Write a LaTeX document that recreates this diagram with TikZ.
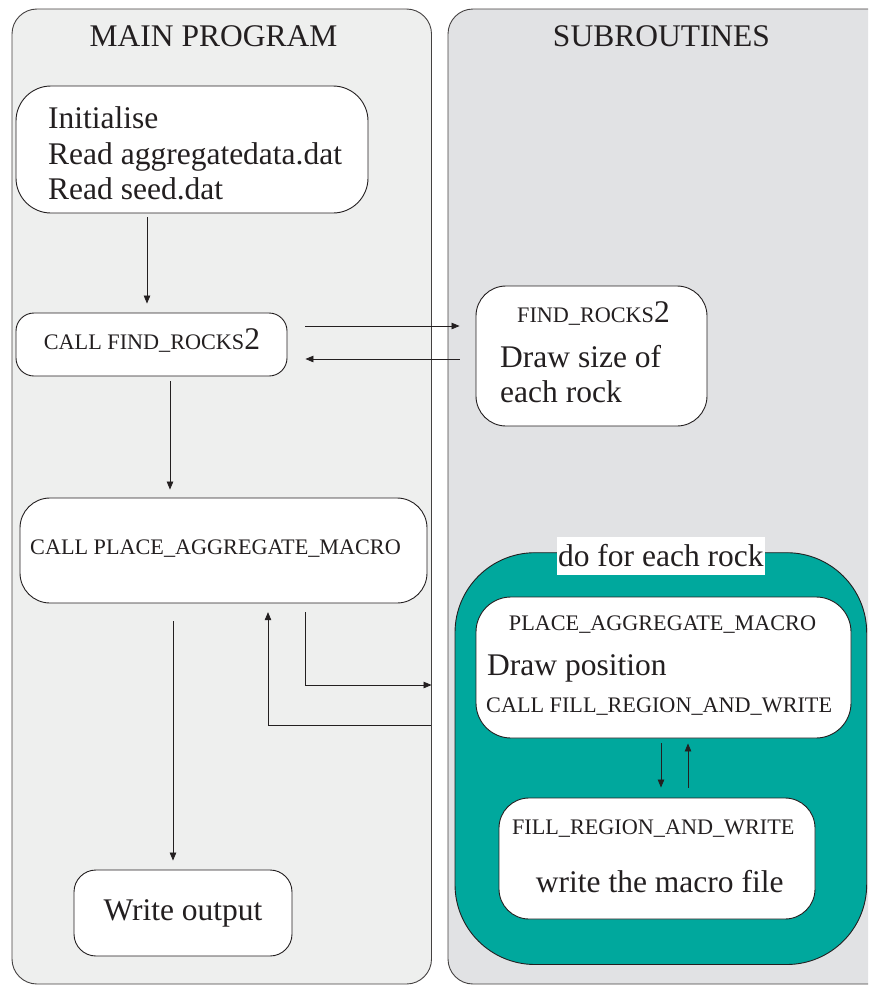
\documentclass[tikz,border=0pt]{standalone}
\usepackage{fontspec}
\setmainfont{Liberation Serif}
\usetikzlibrary{arrows.meta,calc}
\definecolor{ink}{RGB}{35,31,32}
\definecolor{lpanel}{RGB}{238,239,238}
\definecolor{rpanel}{RGB}{225,226,228}
\definecolor{loopteal}{RGB}{0,168,157}
\newcommand{\fbig}{\fontsize{31.5}{35.5}\selectfont}
\newcommand{\fsml}{\fontsize{22.2}{26}\selectfont}
\tikzset{
  panel/.style={draw=ink!85, line width=0.9pt, rounded corners=25pt, inner sep=0pt},
  box/.style={draw=ink, line width=0.9pt, fill=white, rounded corners=#1, inner sep=0pt},
  box/.default=28pt,
  txt/.style={inner sep=0pt, text=ink, font=\fbig},
  stxt/.style={inner sep=0pt, text=ink, font=\fsml},
  arr/.style={draw=ink, line width=0.8pt, -{Triangle[length=8pt,width=6.5pt]}},
}
\begin{document}
\begin{tikzpicture}[x=1pt,y=-1pt]
\useasboundingbox (0,0) rectangle (868,985);
\clip (0,0) rectangle (868,985);
\fill[white] (0,0) rectangle (868,985);

% panels
\node[panel, fill=lpanel, minimum width=419.5pt, minimum height=975pt] (mainp) at (221.75,496.5) {};
\node[panel, fill=rpanel, minimum width=452pt, minimum height=975pt] (subp) at (674,496.5) {};
\node[txt, anchor=base] (t1) at (213.5,46) {MAIN PROGRAM};
\node[txt, anchor=base] (t2) at (661.5,46) {SUBROUTINES};

% main program boxes
\node[box=35pt, minimum width=352pt, minimum height=127pt] (init) at (192,149.5) {};
\node[txt, anchor=base west] (init1) at (48,128.3) {Initialise};
\node[txt, anchor=base west] (init2) at (48,164) {Read aggregatedata.dat};
\node[txt, anchor=base west] (init3) at (48,199.5) {Read seed.dat};

\node[box=18pt, minimum width=271pt, minimum height=63pt] (callfr) at (151.5,344.5) {};
\node[stxt, anchor=base] (callfrt) at (152,349) {CALL FIND\_ROCKS{\fbig 2}};

\node[box=30pt, minimum width=407pt, minimum height=105pt] (callpam) at (223.5,550.5) {};
\node[stxt, anchor=base west] (callpamt) at (30,554) {CALL PLACE\_AGGREGATE\_MACRO};

\node[box=22pt, minimum width=218pt, minimum height=86pt] (writeout) at (183,913) {};
\node[txt, anchor=base] (writeoutt) at (183,920) {Write output};

% subroutines
\node[box=30pt, minimum width=231pt, minimum height=140pt] (sub1) at (591.5,356) {};
\node[stxt, anchor=base] (sub1a) at (593.5,322) {FIND\_ROCKS{\fbig 2}};
\node[txt, anchor=base west] (sub1b) at (500,367) {Draw size of};
\node[txt, anchor=base west] (sub1c) at (500,402) {each rock};

\node[draw=ink, line width=0.9pt, fill=loopteal, rounded corners=80pt, minimum width=411.7pt, minimum height=411.8pt, inner sep=0pt] (loop) at (660.85,758.6) {};
\node[txt, fill=white, minimum width=208.3pt, minimum height=38pt] (looplab) at (660.85,556) {do for each rock};

\node[box=35pt, minimum width=375pt, minimum height=141pt] (sub2) at (663.5,667.5) {};
\node[stxt, anchor=base] (sub2a) at (662.5,630.7) {PLACE\_AGGREGATE\_MACRO};
\node[txt, anchor=base west] (sub2b) at (487,675) {Draw position};
\node[stxt, anchor=base west] (sub2c) at (486,712) {CALL FILL\_REGION\_AND\_WRITE};

\node[box=30pt, minimum width=316pt, minimum height=121pt] (fillw) at (657,858.5) {};
\node[stxt, anchor=base] (fillwa) at (653.3,834) {FILL\_REGION\_AND\_WRITE};
\node[txt, anchor=base] (fillwb) at (659.7,892) {write the macro file};

% connectors
\draw[arr, shorten <=4pt, shorten >=9pt] ([xshift=-45pt]init.south) -- ([xshift=-45pt]init.south |- callfr.north);
\draw[arr, shorten <=18pt, shorten >=16pt] ([yshift=18.5pt]callfr.east) -- ([yshift=18.5pt]callfr.east -| sub1.west);
\draw[arr, shorten <=16pt, shorten >=18pt] ([yshift=-14.5pt]callfr.east -| sub1.west) -- ([yshift=-14.5pt]callfr.east);
\draw[arr, shorten <=5pt, shorten >=8pt] ([xshift=18.5pt]callfr.south) -- ([xshift=18.5pt]callfr.south |- callpam.north);
\draw[arr, shorten <=17.7pt, shorten >=9pt] ([xshift=-10pt]writeout.north |- callpam.south) -- ([xshift=-10pt]writeout.north);
\draw[arr, shorten <=9pt, shorten >=23pt] ([xshift=81.5pt]callpam.south) |- ([yshift=73.6pt]loop.west);
\draw[arr, shorten <=24pt, shorten >=8.7pt] ([yshift=33.6pt]loop.west) -| ([xshift=44.5pt]callpam.south);
\draw[arr, shorten <=5pt, shorten >=10pt] ([xshift=4pt]fillw.north |- sub2.south) -- ([xshift=4pt]fillw.north);
\draw[arr, shorten <=10pt, shorten >=5pt] ([xshift=31pt]fillw.north) -- ([xshift=31pt]fillw.north |- sub2.south);
\end{tikzpicture}
\end{document}
